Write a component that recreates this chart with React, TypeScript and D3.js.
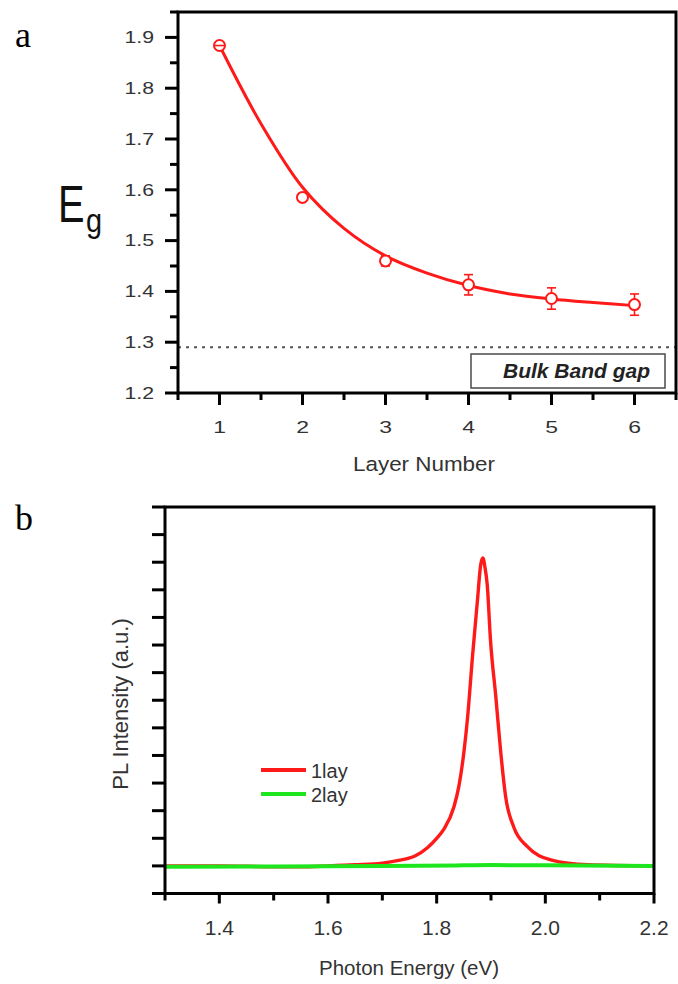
import React from "react";
import * as d3 from "d3";

// ---------- Panel a data ----------
const layers = [1, 2, 3, 4, 5, 6];
const egValues = [1.884, 1.585, 1.46, 1.413, 1.386, 1.374];
const egErrors = [0.003, 0.007, 0.01, 0.02, 0.021, 0.021];
const fitX = [1, 1.5, 2, 2.5, 3, 3.5, 4, 4.5, 5, 5.5, 6];
const fitY = [1.884, 1.73, 1.605, 1.524, 1.47, 1.436, 1.4115, 1.395, 1.385, 1.378, 1.372];
const bulkGap = 1.29;
const aYTicks = [1.2, 1.3, 1.4, 1.5, 1.6, 1.7, 1.8, 1.9];
const aXTicks = [1, 2, 3, 4, 5, 6];

// ---------- Panel b data ----------
const energy1 = [1.3, 1.4, 1.5, 1.55, 1.6, 1.65, 1.7, 1.73, 1.76, 1.783, 1.8, 1.813, 1.832, 1.841, 1.85, 1.857, 1.866, 1.875, 1.881, 1.885, 1.889, 1.893, 1.899, 1.909, 1.918, 1.927, 1.942, 1.967, 2.01, 2.078, 2.2];
const pl1 = [0, 0, -0.03, -0.03, 0.0, 0.04, 0.1, 0.2, 0.36, 0.66, 1.0, 1.32, 2.15, 2.9, 4.1, 5.4, 7.6, 9.6, 10.9, 11.15, 10.8, 10.2, 8.2, 6.1, 4.1, 2.5, 1.4, 0.7, 0.22, 0.04, 0];
const energy2 = [1.3, 1.5, 1.7, 1.85, 1.9, 2.0, 2.2];
const pl2 = [-0.03, -0.02, 0, 0.02, 0.03, 0.02, 0];
const bXTicks = [1.4, 1.6, 1.8, 2.0, 2.2];
const legendLabels = ["1lay", "2lay"];

const RED = "#ff1a1a";
const GREEN = "#1ee61e";
const FONT = "'Liberation Sans', Arial, Helvetica, sans-serif";

export default function App() {
  // Panel a scales
  const ax = d3.scaleLinear().domain([0.5, 6.5]).range([178, 676]);
  const ay = d3.scaleLinear().domain([1.2, 1.95]).range([393, 12]);
  // Panel b scales
  const bx = d3.scaleLinear().domain([1.3, 2.2]).range([165, 654]);
  const by = d3.scaleLinear().domain([-1, 13]).range([893.5, 507]);

  const fitLine = d3
    .line<number>()
    .x((_, i) => ax(fitX[i]))
    .y((d) => ay(d))
    .curve(d3.curveCatmullRom.alpha(0.5));

  const redLine = d3
    .line<number>()
    .x((_, i) => bx(energy1[i]))
    .y((d) => by(d))
    .curve(d3.curveMonotoneX);
  const greenLine = d3
    .line<number>()
    .x((_, i) => bx(energy2[i]))
    .y((d) => by(d))
    .curve(d3.curveMonotoneX);

  const aMinorY = d3.range(0, 16).map((i) => 1.2 + i * 0.05);
  const aMinorX = d3.range(0, 13).map((i) => 0.5 + i * 0.5);
  const bYTicks = d3.range(-1, 14);
  const bMinorX = d3.range(0, 10).map((i) => 1.3 + i * 0.1);

  const isMajor = (v: number, step: number) => Math.abs(v / step - Math.round(v / step)) < 1e-6;

  return (
    <svg
      width={678}
      height={984}
      style={{ position: "absolute", left: 0, top: 0, background: "#fff" }}
      fontFamily={FONT}
    >
      {/* ================= Panel a ================= */}
      <text x={15} y={47} fontFamily="'Liberation Serif', 'Times New Roman', serif" fontSize={36} fill="#000">
        a
      </text>
      <g transform="translate(58,221.7) scale(0.78,1)">
        <text x={0} y={0} fontSize={51} fill="#111">E</text>
      </g>
      <g transform="translate(86,232) scale(0.85,1)">
        <text x={0} y={0} fontSize={34} fill="#111">g</text>
      </g>

      {/* bulk band gap dotted line */}
      <line
        x1={ax(0.5)}
        x2={ax(6.5)}
        y1={ay(bulkGap)}
        y2={ay(bulkGap)}
        stroke="#555"
        strokeWidth={2}
        strokeDasharray="3,5"
      />
      <rect x={471} y={354} width={194} height={34} fill="#fff" stroke="#555" strokeWidth={1.6} />
      <text x={650} y={378} textAnchor="end" fontSize={21} fontWeight="bold" fontStyle="italic" fill="#222">
        Bulk Band gap
      </text>

      {/* fit curve */}
      <path d={fitLine(fitY) || ""} fill="none" stroke={RED} strokeWidth={3} />

      {/* error bars + markers */}
      {layers.map((l, i) => {
        const cx = ax(l);
        const y1 = ay(egValues[i] - egErrors[i]);
        const y2 = ay(egValues[i] + egErrors[i]);
        return (
          <g key={"pt" + i}>
            <line x1={cx} x2={cx} y1={y1} y2={y2} stroke={RED} strokeWidth={1.6} />
            <line x1={cx - 4.5} x2={cx + 4.5} y1={y1} y2={y1} stroke={RED} strokeWidth={1.6} />
            <line x1={cx - 4.5} x2={cx + 4.5} y1={y2} y2={y2} stroke={RED} strokeWidth={1.6} />
            <circle cx={cx} cy={ay(egValues[i])} r={5.5} fill="#fff" stroke={RED} strokeWidth={2} />
            {i === 0 && <line x1={cx - 5} x2={cx + 5} y1={ay(egValues[i])} y2={ay(egValues[i])} stroke={RED} strokeWidth={1.6} />}
          </g>
        );
      })}

      {/* frame */}
      <rect x={ax(0.5)} y={ay(1.95)} width={ax(6.5) - ax(0.5)} height={ay(1.2) - ay(1.95)} fill="none" stroke="#000" strokeWidth={3} />

      {/* y ticks */}
      {aMinorY.map((v, i) => {
        const major = isMajor(v, 0.1);
        return (
          <line
            key={"ay" + i}
            x1={ax(0.5) - (major ? 13 : 8)}
            x2={ax(0.5)}
            y1={ay(v)}
            y2={ay(v)}
            stroke="#000"
            strokeWidth={3}
          />
        );
      })}
      {aYTicks.map((v) => (
        <g key={"ayl" + v} transform={`translate(154,${ay(v) + 5.7}) scale(1.33,1)`}>
          <text x={0} y={0} textAnchor="end" fontSize={16} fill="#333">
            {v.toFixed(1)}
          </text>
        </g>
      ))}

      {/* x ticks */}
      {aMinorX.map((v, i) => {
        const major = isMajor(v, 1);
        return (
          <line
            key={"ax" + i}
            x1={ax(v)}
            x2={ax(v)}
            y1={ay(1.2)}
            y2={ay(1.2) + (major ? 12 : 7)}
            stroke="#000"
            strokeWidth={3}
          />
        );
      })}
      {aXTicks.map((v) => (
        <g key={"axl" + v} transform={`translate(${ax(v)},432.7) scale(1.35,1)`}>
          <text x={0} y={0} textAnchor="middle" fontSize={17} fill="#333">
            {v}
          </text>
        </g>
      ))}
      <g transform="translate(424,470.5) scale(1.15,1)">
        <text x={0} y={0} textAnchor="middle" fontSize={19.5} fill="#333">
          Layer Number
        </text>
      </g>

      {/* ================= Panel b ================= */}
      <text x={15} y={530} fontFamily="'Liberation Serif', 'Times New Roman', serif" fontSize={36} fill="#000">
        b
      </text>

      <path d={redLine(pl1) || ""} fill="none" stroke={RED} strokeWidth={3.4} strokeLinejoin="round" />
      <path d={greenLine(pl2) || ""} fill="none" stroke={GREEN} strokeWidth={4} />

      {/* legend */}
      {legendLabels.map((lab, i) => (
        <g key={"lg" + i}>
          <line x1={261} x2={306} y1={770 + i * 24} y2={770 + i * 24} stroke={i === 0 ? RED : GREEN} strokeWidth={4} />
          <text x={311} y={777.5 + i * 24} fontSize={20} fill="#333">
            {lab}
          </text>
        </g>
      ))}

      {/* frame */}
      <rect x={bx(1.3)} y={by(13)} width={bx(2.2) - bx(1.3)} height={by(-1) - by(13)} fill="none" stroke="#000" strokeWidth={3} />

      {bYTicks.map((v) => (
        <line key={"by" + v} x1={bx(1.3) - 13} x2={bx(1.3)} y1={by(v)} y2={by(v)} stroke="#000" strokeWidth={3} />
      ))}
      {bMinorX.map((v, i) => {
        const major = isMajor(v, 0.2);
        return (
          <line
            key={"bx" + i}
            x1={bx(v)}
            x2={bx(v)}
            y1={by(-1)}
            y2={by(-1) + (major ? 10 : 7)}
            stroke="#000"
            strokeWidth={3}
          />
        );
      })}
      {bXTicks.map((v) => (
        <text key={"bxl" + v} x={bx(v)} y={935} textAnchor="middle" fontSize={21} fill="#333">
          {v.toFixed(1)}
        </text>
      ))}
      <text x={409} y={975} textAnchor="middle" fontSize={20.5} fill="#333">
        Photon Energy (eV)
      </text>
      <text
        transform="translate(128,704) rotate(-90)"
        x={0}
        y={0}
        textAnchor="middle"
        fontSize={22}
        fill="#333"
      >
        PL Intensity (a.u.)
      </text>
    </svg>
  );
}
